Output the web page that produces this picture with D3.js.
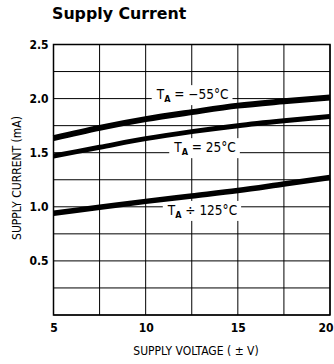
<!DOCTYPE html>
<html><head><meta charset="utf-8">
<script src="https://cdn.jsdelivr.net/npm/d3@7"></script>
<style>
body{margin:0;background:#fff;}
svg{display:block;}
</style></head>
<body>
<script>
// ---- data ----
const voltages = [5, 7.5, 10, 12.5, 15, 17.5, 20];
const currentM55 = [1.635, 1.73, 1.81, 1.875, 1.935, 1.975, 2.01];
const current25 = [1.47, 1.55, 1.63, 1.695, 1.75, 1.795, 1.835];
const current125 = [0.94, 0.995, 1.05, 1.1, 1.15, 1.21, 1.27];
const seriesTemps = ["−55°C", "25°C", "125°C"];
const xTickLabels = [5, 10, 15, 20];
const yTickLabels = [0.5, 1.0, 1.5, 2.0, 2.5];
const xGrid = [5, 7.5, 10, 12.5, 15, 17.5, 20];
const yGrid = [0, 0.25, 0.5, 0.75, 1, 1.25, 1.5, 1.75, 2, 2.25, 2.5];

const W = 334, H = 364;
const FONT = "'Liberation Sans Narrow','DejaVu Sans Condensed',sans-serif";
const svg = d3.select("body").append("svg").attr("width", W).attr("height", H);

const x = d3.scaleLinear().domain([5, 20]).range([53.5, 330]);
const y = d3.scaleLinear().domain([0, 2.5]).range([315, 44.5]);

// title
svg.append("text").attr("x", 52).attr("y", 19)
  .attr("font-family", "'DejaVu Sans', sans-serif").attr("font-weight", "bold")
  .attr("font-size", 15.8).attr("fill", "#000").text("Supply Current");

// grid
const g = svg.append("g");
g.selectAll("line.h").data(yGrid).join("line")
  .attr("x1", x(5)).attr("x2", x(20)).attr("y1", d => y(d)).attr("y2", d => y(d))
  .attr("stroke", "#000").attr("stroke-width", 1);
g.selectAll("line.v").data(xGrid).join("line")
  .attr("y1", y(0)).attr("y2", y(2.5)).attr("x1", d => x(d)).attr("x2", d => x(d))
  .attr("stroke", "#000").attr("stroke-width", 1);
g.append("rect").attr("x", x(5)).attr("y", y(2.5)).attr("width", x(20) - x(5)).attr("height", y(0) - y(2.5))
  .attr("fill", "none").attr("stroke", "#000").attr("stroke-width", 1.5);

// axes tick labels via d3 axes
const yAxis = d3.axisLeft(y).tickValues(yTickLabels).tickFormat(d3.format(".1f")).tickSize(0).tickPadding(5);
svg.append("g").attr("transform", `translate(${x(5)},0)`).call(yAxis)
  .call(s => s.select(".domain").remove())
  .selectAll("text").attr("font-size", 12).attr("font-weight", "bold").attr("fill", "#000")
  .style("font-family", FONT);
const xAxis = d3.axisBottom(x).tickValues(xTickLabels).tickFormat(d3.format("d")).tickSize(0).tickPadding(8);
svg.append("g").attr("transform", `translate(0,${y(0)})`).call(xAxis)
  .call(s => s.select(".domain").remove())
  .selectAll("text").attr("font-size", 12).attr("font-weight", "bold").attr("fill", "#000")
  .style("font-family", FONT)
  .filter(d => d === 20).attr("text-anchor", "end").attr("dx", 3);

// axis titles
svg.append("text").attr("transform", "translate(21,178) rotate(-90)")
  .attr("text-anchor", "middle").attr("font-size", 12).attr("fill", "#000")
  .style("font-family", FONT).text("SUPPLY CURRENT (mA)");
svg.append("text").attr("x", 196).attr("y", 355)
  .attr("text-anchor", "middle").attr("font-size", 12).attr("fill", "#000")
  .style("font-family", FONT).text("SUPPLY VOLTAGE ( ± V)");

// curve labels (with white background breaking the grid)
const labelSpecs = [
  {t: seriesTemps[0], vx: 10.6, vy: 1.995, sep: " =  "},
  {t: seriesTemps[1], vx: 11.55, vy: 1.505, sep: " = "},
  {t: seriesTemps[2], vx: 11.2, vy: 0.925, sep: " ÷ "}
];
labelSpecs.forEach(L => {
  const lg = svg.append("g").attr("transform", `translate(${x(L.vx)},${y(L.vy)})`);
  const txt = lg.append("text").attr("font-size", 13.5).attr("fill", "#000").style("font-family", FONT);
  txt.append("tspan").text("T");
  txt.append("tspan").attr("font-size", 9).attr("dy", 3).attr("font-weight", "bold").text("A");
  txt.append("tspan").attr("dy", -3).text(L.sep + L.t);
  const bb = txt.node().getBBox();
  lg.insert("rect", "text").attr("x", bb.x - 4).attr("y", bb.y - 1)
    .attr("width", bb.width + 8).attr("height", bb.height + 2).attr("fill", "#fff");
});

// curves
const line = d3.line().x(d => x(d[0])).y(d => y(d[1])).curve(d3.curveMonotoneX);
const series = [
  {vals: currentM55, w: 6},
  {vals: current25, w: 5},
  {vals: current125, w: 5.5}
];
series.forEach(s => {
  svg.append("path").datum(voltages.map((v, i) => [v, s.vals[i]]))
    .attr("d", line).attr("fill", "none").attr("stroke", "#000").attr("stroke-width", s.w);
});
</script>
</body></html>
